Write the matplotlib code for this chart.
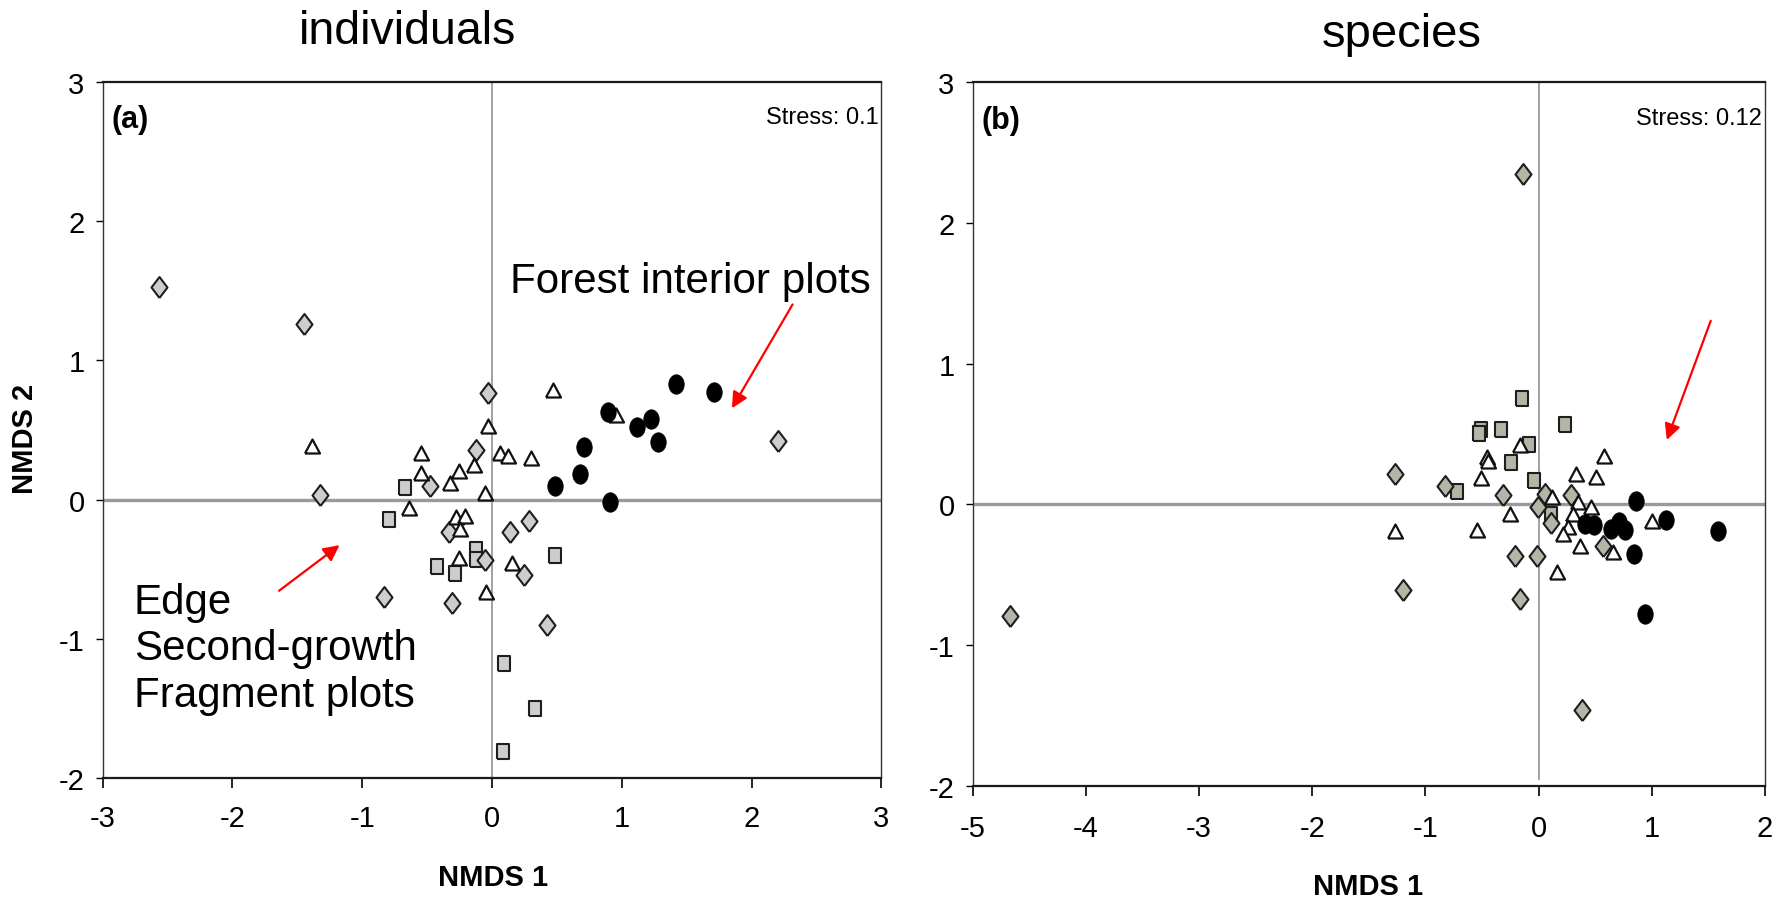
import matplotlib

matplotlib.use('agg')
import matplotlib.pyplot as plt
import numpy as np

# ---- data read off the two NMDS ordinations ----
# (a) individuals
ind_interior_x = [1.418, 0.892, 1.223, 1.118, 1.279, 0.705, 0.674, 0.485, 0.905, 1.706]
ind_interior_y = [0.827, 0.628, 0.576, 0.518, 0.415, 0.374, 0.182, 0.096, -0.017, 0.776]
ind_edge_x = [0.472, 0.956, -0.031, -0.544, 0.059, 0.121, 0.300, -0.141, -0.251, -0.546,
              -0.321, -0.056, -0.636, -0.274, -0.210, -0.244, -0.251, 0.151, -1.388, -0.045]
ind_edge_y = [0.787, 0.607, 0.530, 0.336, 0.331, 0.312, 0.300, 0.247, 0.206, 0.192,
              0.120, 0.050, -0.060, -0.125, -0.118, -0.213, -0.417, -0.456, 0.383, -0.667]
ind_second_x = [-2.563, -1.448, -1.327, -0.832, -0.312, 0.425, 2.200, -0.031, -0.123, -0.481,
                0.282, 0.141, -0.333, -0.051, 0.245]
ind_second_y = [1.526, 1.262, 0.033, -0.702, -0.743, -0.901, 0.424, 0.767, 0.355, 0.100,
                -0.156, -0.237, -0.237, -0.432, -0.542]
ind_frag_x = [-0.673, -0.795, -0.123, -0.123, -0.422, -0.283, 0.482, 0.091, 0.332, 0.081]
ind_frag_y = [0.093, -0.137, -0.353, -0.424, -0.480, -0.528, -0.400, -1.175, -1.496, -1.805]

# (b) species
sp_interior_x = [0.863, 1.128, 1.584, 0.412, 0.489, 0.642, 0.707, 0.760, 0.842, 0.937]
sp_interior_y = [0.024, -0.109, -0.190, -0.137, -0.149, -0.173, -0.126, -0.185, -0.355, -0.778]
sp_edge_x = [0.574, 0.330, 0.504, -0.162, -0.456, -0.448, -0.506, 0.118, 0.347, 0.459,
             -0.250, 0.303, 0.259, 0.215, 0.368, 0.657, 1.004, 0.165, -1.272, -0.542]
sp_edge_y = [0.341, 0.218, 0.194, 0.419, 0.336, 0.308, 0.190, 0.052, 0.017, -0.019,
             -0.071, -0.071, -0.161, -0.209, -0.299, -0.339, -0.118, -0.481, -0.190, -0.180]
sp_second_x = [-1.272, -0.824, -0.312, 0.059, 0.289, -0.006, 0.106, 0.568, -0.212, -0.012,
               -1.198, -0.162, -0.141, -4.673, 0.383]
sp_second_y = [0.213, 0.128, 0.064, 0.076, 0.064, -0.019, -0.133, -0.296, -0.370, -0.370,
               -0.607, -0.671, 2.350, -0.794, -1.459]
sp_frag_x = [-0.144, 0.230, -0.333, -0.506, -0.527, -0.085, -0.244, -0.044, -0.721, 0.112]
sp_frag_y = [0.756, 0.573, 0.533, 0.538, 0.507, 0.431, 0.301, 0.171, 0.092, -0.071]

titles = ['individuals', 'species']
panel_tags = ['(a)', '(b)']
stress = ['Stress: 0.1', 'Stress: 0.12']
x_ticks = [[-3, -2, -1, 0, 1, 2, 3], [-5, -4, -3, -2, -1, 0, 1, 2]]
y_ticks = [-2, -1, 0, 1, 2, 3]

plt.rcParams['axes.unicode_minus'] = False
REG = ['Liberation Sans', 'DejaVu Sans']
NARROW = ['Liberation Sans Narrow', 'Liberation Sans', 'DejaVu Sans']

PT = 100 / 72.0  # pixels per point at dpi 100


def marker(kind, w, h):
    # markers in the source are taller than wide, so build them from vertices
    if kind == 'ellipse':
        t = np.linspace(0, 2 * np.pi, 41)
        v = np.column_stack([w / 2 * np.cos(t), h / 2 * np.sin(t)])
    elif kind == 'rect':
        v = np.array([[-w / 2, -h / 2], [w / 2, -h / 2], [w / 2, h / 2], [-w / 2, h / 2], [-w / 2, -h / 2]])
    elif kind == 'diamond':
        v = np.array([[0, -h / 2], [w / 2, 0], [0, h / 2], [-w / 2, 0], [0, -h / 2]])
    else:
        v = np.array([[-w / 2, -h / 2], [w / 2, -h / 2], [0, h / 2], [-w / 2, -h / 2]])
    return v, (max(w, h) / PT) ** 2


m_circle, s_circle = marker('ellipse', 15.5, 19.5)
m_square, s_square = marker('rect', 11.5, 15)
m_diamond, s_diamond = marker('diamond', 16, 21)
m_tri, s_tri = marker('tri', 15, 14)

fig = plt.figure(figsize=(17.88, 9.03), dpi=100)
ax1 = fig.add_axes([0.0574, 0.1376, 0.4356, 0.7703])
ax2 = fig.add_axes([0.5440, 0.1287, 0.4431, 0.7790])

panels = [
    (ax1, ind_interior_x, ind_interior_y, ind_edge_x, ind_edge_y, ind_second_x, ind_second_y,
     ind_frag_x, ind_frag_y, '#cdcdcd', (-3, 3), 12),
    (ax2, sp_interior_x, sp_interior_y, sp_edge_x, sp_edge_y, sp_second_x, sp_second_y,
     sp_frag_x, sp_frag_y, '#b4b4a7', (-5, 2), 13),
]

for i, (ax, cx, cy, tx, ty, dx, dy, qx, qy, fill, xlim, xpad) in enumerate(panels):
    ax.axhline(0, color='#9a9a9a', lw=2.4, zorder=1)
    ax.axvline(0, ymin=0 if i == 0 else 0.01, color='#9a9a9a', lw=1.3, zorder=1)

    ax.scatter(qx, qy, marker=m_square, s=s_square, facecolor=fill, edgecolor='#1e1e1e', lw=1.5, zorder=3)
    ax.scatter(dx, dy, marker=m_diamond, s=s_diamond, facecolor=fill, edgecolor='#1e1e1e', lw=1.5, zorder=3)
    ax.scatter(tx, ty, marker=m_tri, s=s_tri, facecolor='white', edgecolor='#111111', lw=1.6, zorder=4)
    ax.scatter(cx, cy, marker=m_circle, s=s_circle, facecolor='black', edgecolor='black', lw=0.5, zorder=5)

    ax.set_xlim(*xlim)
    ax.set_ylim(-2, 3)
    ax.set_xticks(x_ticks[i])
    ax.set_yticks(y_ticks)
    ax.tick_params(axis='y', direction='out', length=5, width=1.0, pad=8, labelsize=21)
    ax.tick_params(axis='x', direction='out', length=7, width=1.2, pad=xpad, labelsize=21)
    for lab in ax.get_xticklabels() + ax.get_yticklabels():
        lab.set_family(NARROW)
    for side in ['top', 'bottom']:
        ax.spines[side].set_linewidth(1.6)
        ax.spines[side].set_color('#1a1a1a')
    for side in ['left', 'right']:
        ax.spines[side].set_linewidth(1.0)
        ax.spines[side].set_color('#333333')

    ax.text(0.011, 0.947, panel_tags[i], transform=ax.transAxes, family=NARROW,
            fontweight='bold', fontsize=22, ha='left', va='center')
    ax.text(0.996, 0.95, stress[i], transform=ax.transAxes, family=NARROW,
            fontsize=17, ha='right', va='center')

# annotations, panel (a)
ax1.text(0.14, 1.57, 'Forest interior plots', family=REG, fontsize=30.3, ha='left', va='center')
ax1.text(-2.76, -1.07, 'Edge\nSecond-growth\nFragment plots', family=REG, fontsize=30.3,
         ha='left', va='center', linespacing=1.2)
arrow = dict(arrowstyle='-|>', color='red', lw=1.6, mutation_scale=24, shrinkA=0, shrinkB=0)
ax1.annotate('', xy=(1.848, 0.656), xytext=(2.315, 1.402), arrowprops=arrow)
ax1.annotate('', xy=(-1.175, -0.328), xytext=(-1.641, -0.656), arrowprops=arrow)
# panel (b)
ax2.annotate('', xy=(1.133, 0.458), xytext=(1.521, 1.305), arrowprops=arrow)

# titles and axis labels
fig.text(0.228, 0.9513, titles[0], family=REG, fontsize=33.5, ha='center', va='baseline')
fig.text(0.784, 0.948, titles[1], family=REG, fontsize=34, ha='center', va='baseline')
fig.text(0.2755, 0.0277, 'NMDS 1', family=NARROW, fontweight='bold', fontsize=21, ha='center', va='center')
fig.text(0.765, 0.0177, 'NMDS 1', family=NARROW, fontweight='bold', fontsize=21, ha='center', va='center')
fig.text(0.014, 0.514, 'NMDS 2', family=NARROW, fontweight='bold', fontsize=21, ha='center', va='center',
         rotation=90)

fig.savefig('out.png', dpi=100)
